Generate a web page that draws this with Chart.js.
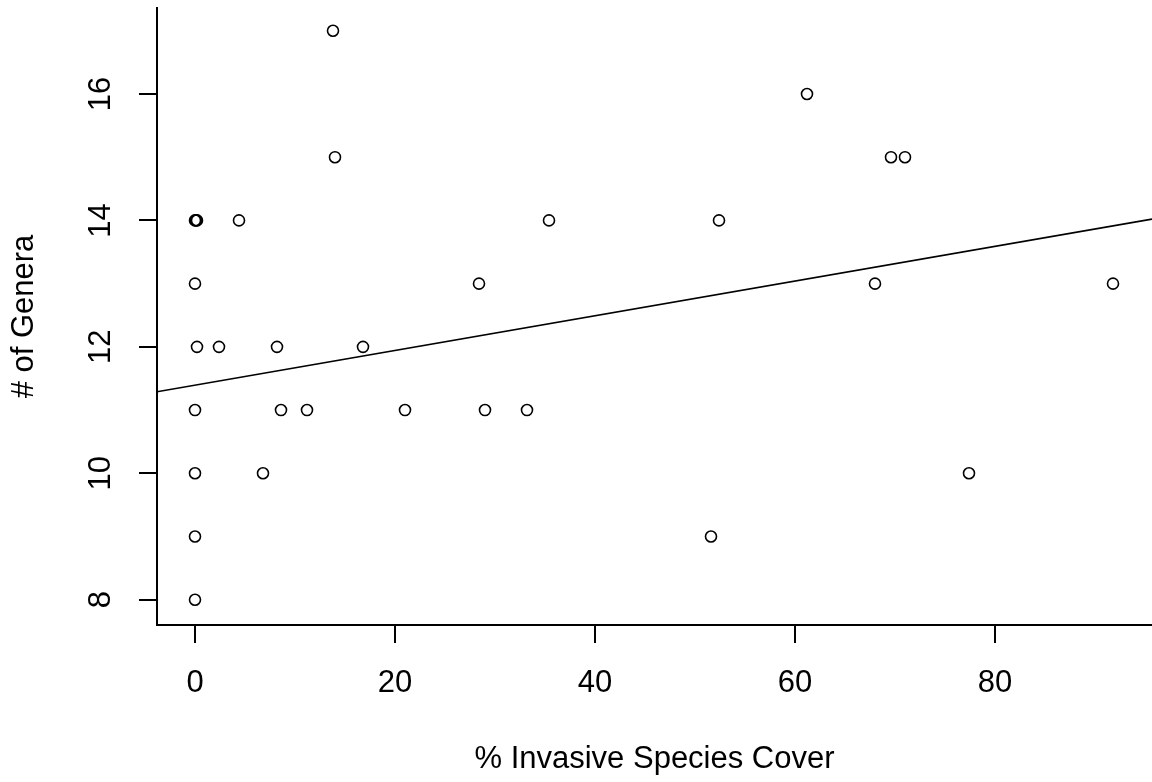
<!DOCTYPE html>
<html>
<head>
<meta charset="utf-8">
<script src="https://cdn.jsdelivr.net/npm/chart.js@4"></script>
<style>
  html, body { margin: 0; padding: 0; background: #fff; }
  #wrap { width: 1152px; height: 782px; }
</style>
</head>
<body>
<div id="wrap"><canvas id="plot" width="1152" height="782"></canvas></div>
<script>
// % invasive species cover vs number of genera
const coverPct = [0, 0, 0, 0, 0.2, 0, 0, 0.1, 0.2, 2.4, 4.4, 6.8, 8.2, 8.6, 11.2, 13.8, 14, 16.8,
                  21, 28.4, 29, 33.2, 35.4, 51.6, 52.4, 61.2, 68, 69.6, 71, 77.4, 91.8];
const genera   = [8, 9, 10, 11, 12, 13, 14, 14, 14, 12, 14, 10, 12, 11, 11, 17, 15, 12,
                  11, 13, 11, 11, 14, 9, 14, 16, 13, 15, 15, 10, 13];

// fitted line (abline), two end points at the plot edges
const fitX = [-3.8, 95.7];
const fitY = [11.29, 14.02];

const xTicks = [0, 20, 40, 60, 80];
const yTicks = [8, 10, 12, 14, 16];

const xLimits = [-3.8, 95.7];
const yLimits = [7.6, 17.36];

const fontFamily = '"Liberation Sans", Arial, sans-serif';

// y tick labels in R are turned 90 degrees, so draw them here
const yLabelPlugin = {
    id: 'yLabels',
    afterDraw(chart) {
        const ctx = chart.ctx;
        const yScale = chart.scales.y;
        ctx.save();
        ctx.fillStyle = '#000';
        ctx.font = '31px ' + fontFamily;
        ctx.textAlign = 'center';
        ctx.textBaseline = 'middle';
        yTicks.forEach(v => {
            const py = yScale.getPixelForValue(v);
            ctx.save();
            ctx.translate(101, py);
            ctx.rotate(-Math.PI / 2);
            ctx.fillText(String(v), 0, 0);
            ctx.restore();
        });
        ctx.restore();
    }
};

const ctx = document.getElementById('plot').getContext('2d');
const chart = new Chart(ctx, {
    type: 'scatter',
    data: {
        datasets: [
            {
                label: 'sites',
                data: coverPct.map((x, i) => ({ x: x, y: genera[i] })),
                pointStyle: 'circle',
                pointRadius: 5.5,
                pointBorderWidth: 1.6,
                pointBorderColor: '#000',
                pointBackgroundColor: 'rgba(0,0,0,0)',
                showLine: false
            },
            {
                label: 'fit',
                type: 'line',
                data: fitX.map((x, i) => ({ x: x, y: fitY[i] })),
                borderColor: '#000',
                borderWidth: 1.6,
                pointRadius: 0,
                fill: false,
                tension: 0
            }
        ]
    },
    options: {
        responsive: false,
        animation: false,
        events: [],
        layout: { autoPadding: false, padding: { top: 8, right: 0, bottom: 0, left: 0 } },
        plugins: {
            legend: { display: false },
            tooltip: { enabled: false }
        },
        scales: {
            x: {
                type: 'linear',
                min: xLimits[0],
                max: xLimits[1],
                afterBuildTicks: axis => { axis.ticks = xTicks.map(v => ({ value: v })); },
                afterFit: axis => {
                    axis.height = 157;
                    axis.paddingLeft = 0;
                    axis.paddingRight = 0;
                },
                border: { display: true, color: '#000', width: 2 },
                grid: { display: true, drawOnChartArea: false, drawTicks: true, tickLength: 18, color: '#000', lineWidth: 2 },
                ticks: {
                    color: '#000',
                    padding: 22,
                    maxRotation: 0,
                    font: { family: fontFamily, size: 31 }
                },
                title: {
                    display: true,
                    text: '% Invasive Species Cover',
                    color: '#000',
                    padding: { top: 0, bottom: 4 },
                    font: { family: fontFamily, size: 31 }
                }
            },
            y: {
                type: 'linear',
                min: yLimits[0],
                max: yLimits[1],
                afterBuildTicks: axis => { axis.ticks = yTicks.map(v => ({ value: v })); },
                afterFit: axis => {
                    axis.width = 157;
                    axis.paddingTop = 0;
                    axis.paddingBottom = 0;
                },
                border: { display: true, color: '#000', width: 2 },
                grid: { display: true, drawOnChartArea: false, drawTicks: true, tickLength: 18, color: '#000', lineWidth: 2 },
                ticks: { display: false },
                title: {
                    display: true,
                    text: '# of Genera',
                    color: '#000',
                    padding: { top: 6, bottom: 0 },
                    font: { family: fontFamily, size: 31 }
                }
            }
        }
    },
    plugins: [yLabelPlugin]
});
</script>
</body>
</html>
